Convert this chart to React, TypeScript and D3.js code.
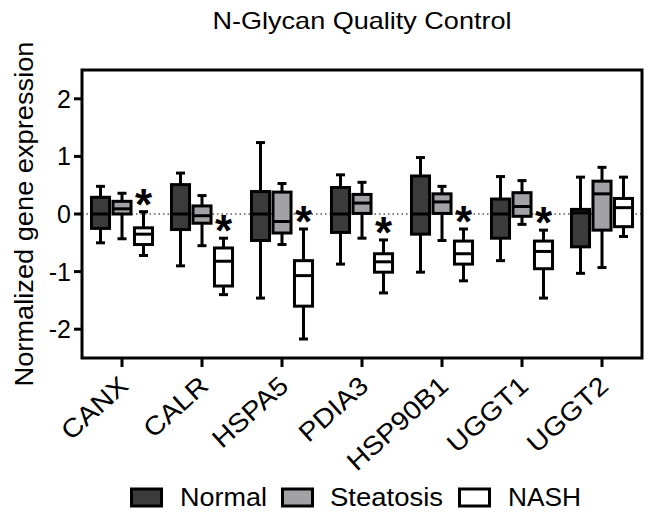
import React from "react";
import * as d3 from "d3";

const genes = ["CANX", "CALR", "HSPA5", "PDIA3", "HSP90B1", "UGGT1", "UGGT2"];
const groups = ["Normal", "Steatosis", "NASH"];
const groupFill = ["#3b3b3b", "#a2a2a4", "#ffffff"];

const normalMin = [-0.5, -0.9, -1.46, -0.87, -1.01, -0.81, -1.03];
const normalQ1 = [-0.25, -0.27, -0.46, -0.32, -0.35, -0.42, -0.57];
const normalMed = [0, 0, 0, 0, 0, 0, 0.02];
const normalQ3 = [0.29, 0.51, 0.39, 0.46, 0.66, 0.26, 0.08];
const normalMax = [0.48, 0.71, 1.24, 0.68, 0.98, 0.65, 0.64];

const steatMin = [-0.43, -0.55, -0.53, -0.42, -0.46, -0.18, -0.93];
const steatQ1 = [0.0, -0.16, -0.33, 0.01, 0.01, -0.04, -0.28];
const steatMed = [0.09, -0.03, -0.13, 0.19, 0.21, 0.13, 0.35];
const steatQ3 = [0.22, 0.14, 0.38, 0.34, 0.35, 0.37, 0.57];
const steatMax = [0.36, 0.32, 0.53, 0.55, 0.48, 0.58, 0.81];

const nashMin = [-0.72, -1.4, -2.17, -1.37, -1.16, -1.46, -0.39];
const nashQ1 = [-0.53, -1.25, -1.6, -1.01, -0.87, -0.95, -0.22];
const nashMed = [-0.35, -0.82, -1.07, -0.83, -0.69, -0.65, 0.11];
const nashQ3 = [-0.24, -0.59, -0.81, -0.69, -0.47, -0.47, 0.27];
const nashMax = [0.04, -0.42, -0.26, -0.45, -0.26, -0.28, 0.64];

const significant = [true, true, true, true, true, true, false];
const yTicks = [-2, -1, 0, 1, 2];

const title = "N-Glycan Quality Control";
const yLabel = "Normalized gene expression";

const seriesStats = [
  [normalMin, normalQ1, normalMed, normalQ3, normalMax],
  [steatMin, steatQ1, steatMed, steatQ3, steatMax],
  [nashMin, nashQ1, nashMed, nashQ3, nashMax],
];

const FONT = "'Liberation Sans', Arial, Helvetica, sans-serif";

export default function App() {
  const W = 654;
  const H = 514;
  const left = 82;
  const right = 642;
  const top = 70;
  const bottom = 358;

  const x = d3.scaleBand<string>().domain(genes).range([left, right]).padding(0);
  const step = 21.5;
  const inner = d3
    .scaleBand<string>()
    .domain(groups)
    .range([x.bandwidth() / 2 - 1.5 * step, x.bandwidth() / 2 + 1.5 * step])
    .paddingInner(0.16)
    .paddingOuter(0.08);
  const y = d3.scaleLinear().domain([-2.5, 2.5]).range([bottom, top]);
  const bw = inner.bandwidth();
  const capW = 9;
  const sw = 3;

  const legendItems = [
    { x: 130, textX: 180, w: 87 },
    { x: 281, textX: 330, w: 113 },
    { x: 458, textX: 508, w: 73 },
  ];

  return (
    <svg
      width={W}
      height={H}
      style={{ position: "absolute", left: 0, top: 0, background: "#fff" }}
      fontFamily={FONT}
    >
      <text x={(left + right) / 2} y={29} textAnchor="middle" fontSize={24} textLength={299} lengthAdjust="spacingAndGlyphs">
        {title}
      </text>

      <text
        transform={`translate(33,${(top + bottom) / 2}) rotate(-90)`}
        textAnchor="middle"
        fontSize={25}
        textLength={345}
        lengthAdjust="spacingAndGlyphs"
      >
        {yLabel}
      </text>

      {/* zero line */}
      <line x1={left} x2={right} y1={y(0)} y2={y(0)} stroke="#555" strokeWidth={1.3} strokeDasharray="1.5,3" />

      {/* boxes */}
      {genes.map((g, gi) => (
        <g key={g} transform={`translate(${x(g)},0)`}>
          {groups.map((s, si) => {
            const [mn, q1, md, q3, mx] = seriesStats[si].map((a) => a[gi]);
            const bx = inner(s)!;
            const cx = bx + bw / 2;
            return (
              <g key={s}>
                <line x1={cx} x2={cx} y1={y(mx)} y2={y(q3)} stroke="#000" strokeWidth={sw} />
                <line x1={cx} x2={cx} y1={y(q1)} y2={y(mn)} stroke="#000" strokeWidth={sw} />
                <line x1={cx - capW / 2} x2={cx + capW / 2} y1={y(mx)} y2={y(mx)} stroke="#000" strokeWidth={sw} />
                <line x1={cx - capW / 2} x2={cx + capW / 2} y1={y(mn)} y2={y(mn)} stroke="#000" strokeWidth={sw} />
                <rect
                  x={bx}
                  y={y(q3)}
                  width={bw}
                  height={y(q1) - y(q3)}
                  fill={groupFill[si]}
                  stroke="#000"
                  strokeWidth={sw}
                />
                <line x1={bx} x2={bx + bw} y1={y(md)} y2={y(md)} stroke="#000" strokeWidth={sw} />
              </g>
            );
          })}
          {significant[gi] && (
            <text
              x={inner("NASH")! + bw / 2}
              y={y(nashMax[gi]) - 17 + 25}
              textAnchor="middle"
              fontSize={44}
              fontWeight="bold"
            >
              *
            </text>
          )}
        </g>
      ))}

      {/* frame */}
      <rect x={left} y={top} width={right - left} height={bottom - top} fill="none" stroke="#000" strokeWidth={3} />

      {/* y ticks */}
      {yTicks.map((t) => (
        <g key={t}>
          <line x1={left - 8} x2={left} y1={y(t)} y2={y(t)} stroke="#000" strokeWidth={3} />
          <text x={left - 11} y={y(t) + 9} textAnchor="end" fontSize={25}>
            {t < 0 ? "-" + Math.abs(t) : String(t)}
          </text>
        </g>
      ))}

      {/* x ticks */}
      {genes.map((g) => {
        const cx = x(g)! + x.bandwidth() / 2;
        return (
          <g key={g}>
            <line x1={cx} x2={cx} y1={bottom} y2={bottom + 9} stroke="#000" strokeWidth={3} />
            <text
              transform={`translate(${cx + 8},${bottom + 30}) rotate(-42) scale(1.1,1)`}
              textAnchor="end"
              fontSize={26}
            >
              {g}
            </text>
          </g>
        );
      })}

      {/* legend */}
      {groups.map((s, i) => (
        <g key={s}>
          <rect x={legendItems[i].x + 1.5} y={489} width={30} height={17} fill={groupFill[i]} stroke="#000" strokeWidth={3} />
          <text x={legendItems[i].textX} y={506} fontSize={25} textLength={legendItems[i].w} lengthAdjust="spacingAndGlyphs">
            {s}
          </text>
        </g>
      ))}
    </svg>
  );
}
